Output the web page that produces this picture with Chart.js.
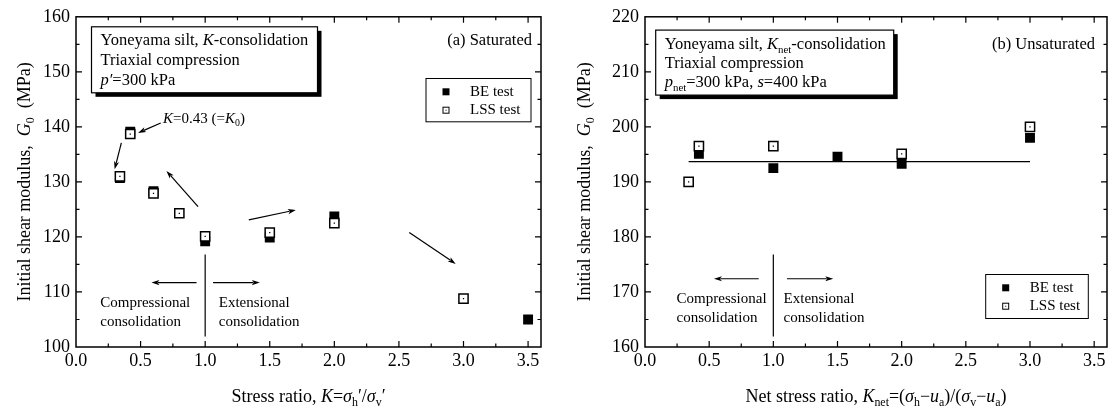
<!DOCTYPE html>
<html>
<head>
<meta charset="utf-8">
<script src="https://cdn.jsdelivr.net/npm/chart.js@4/dist/chart.umd.min.js"></script>
<style>
  html, body { margin: 0; padding: 0; background: #fff; }
  #wrap { position: relative; width: 1115px; height: 413px; }
  canvas { position: absolute; top: 0; }
  #chartA { left: 0; }
  #chartB { left: 557px; }
</style>
</head>
<body>
<div id="wrap">
  <canvas id="chartA" width="557" height="413"></canvas>
  <canvas id="chartB" width="558" height="413"></canvas>
</div>
<script>
// (a) saturated, K-consolidation
const satBeK = [0.34, 0.42, 0.6, 1.0, 1.5, 2.0, 3.5];
const satBeG = [130.7, 139.1, 128.3, 119.2, 119.9, 123.7, 105.0];
const satLssK = [0.34, 0.42, 0.6, 0.8, 1.0, 1.5, 2.0, 3.0];
const satLssG = [131.0, 138.7, 127.9, 124.3, 120.1, 120.8, 122.5, 108.8];

// (b) unsaturated, Knet-consolidation
const unsBeK = [0.42, 1.0, 1.5, 2.0, 3.0];
const unsBeG = [195.1, 192.5, 194.6, 193.3, 198.0];
const unsLssK = [0.34, 0.42, 1.0, 2.0, 3.0];
const unsLssG = [190.0, 196.5, 196.5, 195.1, 200.0];
const unsMeanK = [0.34, 3.0];
const unsMeanG = [193.7, 193.7];

const xTicks = [0, 0.5, 1.0, 1.5, 2.0, 2.5, 3.0, 3.5];
const satYTicks = [100, 110, 120, 130, 140, 150, 160];
const unsYTicks = [160, 170, 180, 190, 200, 210, 220];

const serif = '"Liberation Serif", "Times New Roman", serif';

function pts(xs, ys) {
  return xs.map((x, i) => ({ x: x, y: ys[i] }));
}

// parts: [text, style] with style '' | 'i' (italic) | 's' (subscript) | 'is'
function richText(ctx, parts, x, y, size, align) {
  const runs = parts.map(([t, st]) => {
    const sub = st.indexOf('s') >= 0;
    const it = st.indexOf('i') >= 0;
    const fs = sub ? size * 0.66 : size;
    const font = (it ? 'italic ' : '') + fs + 'px ' + serif;
    ctx.font = font;
    return { t: t, font: font, w: ctx.measureText(t).width, dy: sub ? size * 0.3 : 0 };
  });
  const total = runs.reduce((a, r) => a + r.w, 0);
  let cx = align === 'center' ? x - total / 2 : align === 'right' ? x - total : x;
  ctx.textAlign = 'left';
  ctx.textBaseline = 'middle';
  ctx.fillStyle = '#000';
  runs.forEach((r) => {
    ctx.font = r.font;
    ctx.fillText(r.t, cx, y + r.dy);
    cx += r.w;
  });
}

function arrow(ctx, x1, y1, x2, y2) {
  const a = Math.atan2(y2 - y1, x2 - x1);
  const hl = 8, hw = 2.6;
  ctx.beginPath();
  ctx.moveTo(x1, y1);
  ctx.lineTo(x2 - Math.cos(a) * hl * 0.8, y2 - Math.sin(a) * hl * 0.8);
  ctx.stroke();
  ctx.beginPath();
  ctx.moveTo(x2, y2);
  ctx.lineTo(x2 - Math.cos(a) * hl + Math.sin(a) * hw, y2 - Math.sin(a) * hl - Math.cos(a) * hw);
  ctx.lineTo(x2 - Math.cos(a) * hl * 0.75, y2 - Math.sin(a) * hl * 0.75);
  ctx.lineTo(x2 - Math.cos(a) * hl - Math.sin(a) * hw, y2 - Math.sin(a) * hl + Math.cos(a) * hw);
  ctx.closePath();
  ctx.fill();
}

const decorations = {
  id: 'decorations',
  afterDatasetsDraw(chart, args, opts) {
    const ctx = chart.ctx;
    const { left, right, top, bottom } = chart.chartArea;
    const xs = chart.scales.x, ys = chart.scales.y;
    ctx.save();
    ctx.strokeStyle = '#000';
    ctx.fillStyle = '#000';

    // inward ticks on all four sides
    ctx.lineWidth = 1.2;
    ctx.beginPath();
    for (let i = 1; xs.min + i * opts.xMinor < xs.max - 1e-6; i++) {
      const v = xs.min + i * opts.xMinor;
      const px = xs.getPixelForValue(v);
      const len = i % 2 === 0 ? 6 : 3.5;
      ctx.moveTo(px, bottom); ctx.lineTo(px, bottom - len);
      ctx.moveTo(px, top); ctx.lineTo(px, top + len);
    }
    for (let i = 1; ys.min + i * opts.yMinor < ys.max - 1e-6; i++) {
      const v = ys.min + i * opts.yMinor;
      const py = ys.getPixelForValue(v);
      const len = i % 2 === 0 ? 6 : 3.5;
      ctx.moveTo(left, py); ctx.lineTo(left + len, py);
      ctx.moveTo(right, py); ctx.lineTo(right - len, py);
    }
    ctx.stroke();

    // frame
    ctx.lineWidth = 1.5;
    ctx.strokeRect(left, top, right - left, bottom - top);

    // axis titles
    richText(ctx, opts.xTitle, (left + right) / 2, 397, 18, 'center');
    ctx.save();
    ctx.translate(opts.yTitleX, (top + bottom) / 2);
    ctx.rotate(-Math.PI / 2);
    richText(ctx, opts.yTitle, 0, 0, 18, 'center');
    ctx.restore();

    // info box with shadow
    const b = opts.box;
    const bx = left + b.dx, by = top + b.dy;
    ctx.fillRect(bx + 4, by + 4, b.w, b.h);
    ctx.fillStyle = '#fff';
    ctx.fillRect(bx, by, b.w, b.h);
    ctx.lineWidth = 1.2;
    ctx.strokeRect(bx, by, b.w, b.h);
    b.lines.forEach((ln, i) => richText(ctx, ln, bx + 9, by + b.lineY[i], 16.5, 'left'));

    // panel label
    richText(ctx, opts.tag.parts, right - opts.tag.dr, top + opts.tag.dy, 16.5, 'right');

    // legend
    const lg = opts.legend;
    const lx = left + lg.dx, ly = top + lg.dy;
    ctx.fillStyle = '#fff';
    ctx.fillRect(lx, ly, lg.w, lg.h);
    ctx.lineWidth = 1;
    ctx.strokeRect(lx, ly, lg.w, lg.h);
    ctx.fillStyle = '#000';
    const r1 = ly + 13.3, r2 = ly + 31.7, mx = lx + 20;
    ctx.fillRect(mx - 3.5, r1 - 3.5, 7, 7);
    ctx.strokeRect(mx - 3, r2 - 3, 6, 6);
    ctx.fillRect(mx - 0.5, r2 - 0.5, 1, 1);
    richText(ctx, [['BE test', '']], lx + 44, r1, 15, 'left');
    richText(ctx, [['LSS test', '']], lx + 44, r2, 15, 'left');

    // guide lines, arrows, notes (data coordinates)
    ctx.lineWidth = 1.2;
    opts.lines.forEach(([x1, y1, x2, y2]) => {
      ctx.beginPath();
      ctx.moveTo(xs.getPixelForValue(x1), ys.getPixelForValue(y1));
      ctx.lineTo(xs.getPixelForValue(x2), ys.getPixelForValue(y2));
      ctx.stroke();
    });
    opts.arrows.forEach(([x1, y1, x2, y2]) => {
      arrow(ctx, xs.getPixelForValue(x1), ys.getPixelForValue(y1),
        xs.getPixelForValue(x2), ys.getPixelForValue(y2));
    });
    opts.notes.forEach((n) => {
      richText(ctx, n.parts, xs.getPixelForValue(n.x), ys.getPixelForValue(n.y), 15, 'left');
    });
    ctx.restore();
  }
};

function makeChart(id, be, lss, extra, yTicks, yWidth, padRight, deco) {
  const datasets = [
    {
      label: 'BE test', data: be, order: 3,
      pointStyle: 'rect', pointRadius: 7, pointBackgroundColor: '#000',
      pointBorderColor: '#000', pointBorderWidth: 0, showLine: false
    },
    {
      label: 'LSS test', data: lss, order: 2,
      pointStyle: 'rect', pointRadius: 6.5, pointBackgroundColor: '#fff',
      pointBorderColor: '#000', pointBorderWidth: 1.5, showLine: false
    },
    {
      label: 'LSS centre', data: lss, order: 1,
      pointStyle: 'rect', pointRadius: 0.9, pointBackgroundColor: '#000',
      pointBorderWidth: 0, showLine: false
    }
  ].concat(extra);

  return new Chart(document.getElementById(id), {
    type: 'scatter',
    data: { datasets: datasets },
    options: {
      responsive: false,
      animation: false,
      events: [],
      layout: { padding: { left: 0, right: padRight, top: 15, bottom: 0 } },
      scales: {
        x: {
          type: 'linear', min: 0, max: 3.6,
          grid: { display: false, drawTicks: false },
          border: { display: false },
          afterBuildTicks: (s) => { s.ticks = xTicks.map((v) => ({ value: v })); },
          afterFit: (s) => { s.height = 66; },
          ticks: {
            autoSkip: false, maxRotation: 0, padding: 3, color: '#000',
            font: { family: serif, size: 18 },
            callback: (v) => Number(v).toFixed(1)
          }
        },
        y: {
          type: 'linear', min: yTicks[0], max: yTicks[yTicks.length - 1],
          grid: { display: false, drawTicks: false },
          border: { display: false },
          afterBuildTicks: (s) => { s.ticks = yTicks.map((v) => ({ value: v })); },
          afterFit: (s) => { s.width = yWidth; },
          ticks: {
            autoSkip: false, padding: 6, color: '#000',
            font: { family: serif, size: 18 }
          }
        }
      },
      plugins: {
        legend: { display: false },
        tooltip: { enabled: false },
        decorations: deco
      }
    },
    plugins: [decorations]
  });
}

const yTitle = [['Initial shear modulus,  ', ''], ['G', 'i'], ['0', 's'], ['  (MPa)', '']];

makeChart('chartA', pts(satBeK, satBeG), pts(satLssK, satLssG), [], satYTicks, 76, 16, {
  xMinor: 0.25, yMinor: 5,
  xTitle: [['Stress ratio, ', ''], ['K', 'i'], ['=', ''], ['σ', 'i'], ['h', 's'], ['′/', ''], ['σ', 'i'], ['v', 's'], ['′', '']],
  yTitle: yTitle, yTitleX: 25,
  box: {
    dx: 15.5, dy: 10, w: 226, h: 66, lineY: [14, 34, 54],
    lines: [
      [['Yoneyama silt, ', ''], ['K', 'i'], ['-consolidation', '']],
      [['Triaxial compression', '']],
      [['p′', 'i'], ['=300 kPa', '']]
    ]
  },
  tag: { parts: [['(a) Saturated', '']], dr: 9, dy: 24 },
  legend: { dx: 350, dy: 61.7, w: 105, h: 43.3 },
  lines: [[1.0, 116.8, 1.0, 101.9]],
  arrows: [
    [0.656, 140.7, 0.48, 138.9],
    [0.351, 137.1, 0.299, 132.3],
    [0.945, 125.5, 0.70, 132.0],
    [1.338, 123.1, 1.702, 124.9],
    [2.58, 120.8, 2.94, 115.1],
    [0.933, 111.7, 0.584, 111.7],
    [1.061, 111.7, 1.423, 111.7]
  ],
  notes: [
    { x: 0.674, y: 141.4, parts: [['K', 'i'], ['=0.43 (=', ''], ['K', 'i'], ['0', 's'], [')', '']] },
    { x: 0.188, y: 107.9, parts: [['Compressional', '']] },
    { x: 0.188, y: 104.5, parts: [['consolidation', '']] },
    { x: 1.105, y: 107.9, parts: [['Extensional', '']] },
    { x: 1.105, y: 104.5, parts: [['consolidation', '']] }
  ]
});

const meanLine = {
  label: 'mean', data: pts(unsMeanK, unsMeanG), order: 4, showLine: true,
  borderColor: '#000', borderWidth: 1.3, pointRadius: 0
};

makeChart('chartB', pts(unsBeK, unsBeG), pts(unsLssK, unsLssG), [meanLine], unsYTicks, 88, 6, {
  xMinor: 0.25, yMinor: 5,
  xTitle: [['Net stress ratio, ', ''], ['K', 'i'], ['net', 's'], ['=(', ''], ['σ', 'i'], ['h', 's'], ['−', ''], ['u', 'i'], ['a', 's'], [')/(', ''], ['σ', 'i'], ['v', 's'], ['−', ''], ['u', 'i'], ['a', 's'], [')', '']],
  yTitle: yTitle, yTitleX: 28,
  box: {
    dx: 10.7, dy: 13.3, w: 238, h: 65, lineY: [15, 33.4, 52.7],
    lines: [
      [['Yoneyama silt, ', ''], ['K', 'i'], ['net', 's'], ['-consolidation', '']],
      [['Triaxial compression', '']],
      [['p', 'i'], ['net', 's'], ['=300 kPa, ', ''], ['s', 'i'], ['=400 kPa', '']]
    ]
  },
  tag: { parts: [['(b) Unsaturated', '']], dr: 12, dy: 28 },
  legend: { dx: 340.7, dy: 257.7, w: 102.6, h: 44 },
  lines: [[1.0, 176.8, 1.0, 161.9]],
  arrows: [
    [0.886, 172.4, 0.537, 172.4],
    [1.106, 172.4, 1.467, 172.4]
  ],
  notes: [
    { x: 0.246, y: 168.7, parts: [['Compressional', '']] },
    { x: 0.246, y: 165.3, parts: [['consolidation', '']] },
    { x: 1.08, y: 168.7, parts: [['Extensional', '']] },
    { x: 1.08, y: 165.3, parts: [['consolidation', '']] }
  ]
});
</script>
</body>
</html>
